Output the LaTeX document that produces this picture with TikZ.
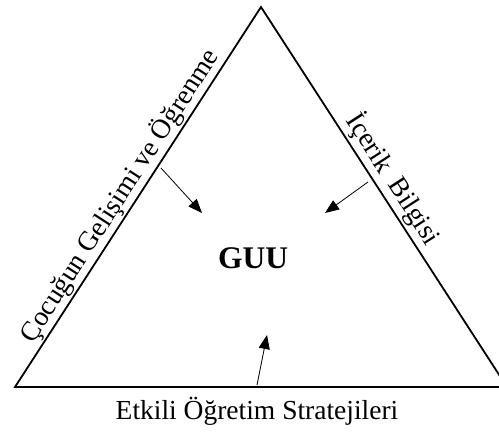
\documentclass[tikz,border=0pt]{standalone}
\usepackage{fontspec}
\setmainfont{Liberation Serif}
\usetikzlibrary{arrows.meta,positioning,calc}

\begin{document}
\begin{tikzpicture}[x=1pt, y=-1pt,
    side/.style={line width=1.8pt, line join=miter},
    pointer/.style={-{Triangle[length=14pt,width=11pt]}, line width=0.8pt},
    sidelabel/.style={font=\fontsize{27.5}{32}\selectfont, inner sep=1pt}]
    \useasboundingbox (0,0) rectangle (499,434);

    % Triangle corners
    \coordinate (apex) at (261,7);
    \coordinate (left) at (15,387);
    \coordinate (right) at (507,387);
    \draw[side] (left) -- (apex) -- (right) -- cycle;

    % Side labels
    \path (left) -- node[sidelabel, sloped, above=1pt, pos=0.48] (child) {Çocuğun Gelişimi ve Öğrenme} (apex);
    \path (apex) -- node[sidelabel, sloped, above=2pt, pos=0.478] (content) {İçerik\hspace{0.45em}Bilgisi} (right);
    \node[sidelabel, anchor=north] (strategy) at (257,396) {Etkili Öğretim Stratejileri};

    % Centre
    \node[font=\fontsize{31.5}{36}\selectfont\bfseries] (guu) at (253,258) {GUU};

    % Arrows towards the centre
    \coordinate (childfoot) at (161,168);
    \coordinate (childtip) at (202,213);
    \coordinate (contentfoot) at (368,182);
    \coordinate (contenttip) at (325,213);
    \coordinate (strategyfoot) at (257,385);
    \coordinate (strategytip) at (267,335);
    \draw[pointer] (childfoot) -- (childtip);
    \draw[pointer] (contentfoot) -- (contenttip);
    \draw[pointer] (strategyfoot) -- (strategytip);
\end{tikzpicture}
\end{document}
